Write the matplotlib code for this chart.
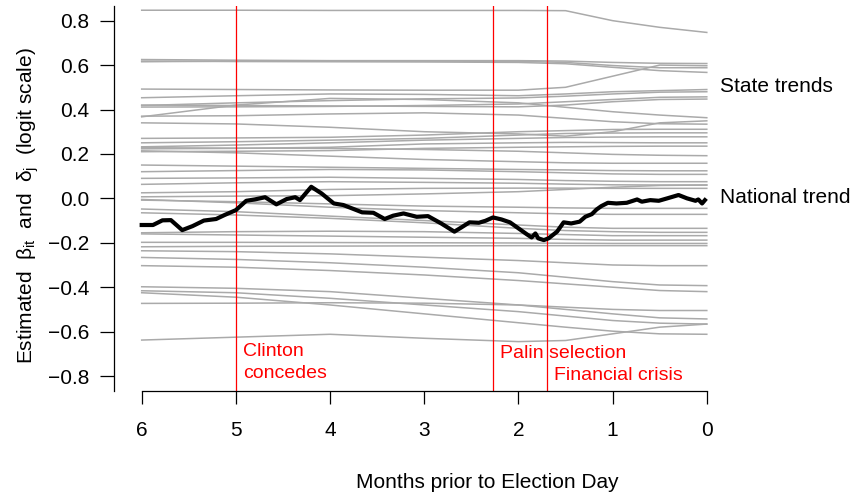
import matplotlib
matplotlib.use("Agg")
import matplotlib.pyplot as plt

plt.rcParams['font.family'] = ['Liberation Sans', 'DejaVu Sans']
plt.rcParams['mathtext.fontset'] = 'custom'
plt.rcParams['mathtext.rm'] = 'Liberation Sans'
plt.rcParams['mathtext.it'] = 'Liberation Sans'

# months before election at which state trend values were read
knots = [6, 5, 4, 3, 2, 1.5, 1, 0.5, 0]

# state trends (grey), one list per state, values at the knots above
states = [
    [0.847, 0.847, 0.846, 0.846, 0.846, 0.845, 0.800, 0.770, 0.747],
    [0.625, 0.622, 0.620, 0.620, 0.620, 0.618, 0.612, 0.608, 0.607],
    [0.615, 0.618, 0.619, 0.618, 0.617, 0.612, 0.598, 0.588, 0.588],
    [0.618, 0.616, 0.615, 0.614, 0.612, 0.606, 0.590, 0.575, 0.567],
    [0.492, 0.490, 0.488, 0.487, 0.487, 0.500, 0.550, 0.600, 0.597],
    [0.453, 0.462, 0.470, 0.468, 0.462, 0.470, 0.480, 0.485, 0.490],
    [0.418, 0.430, 0.440, 0.448, 0.452, 0.460, 0.470, 0.478, 0.480],
    [0.411, 0.412, 0.414, 0.418, 0.425, 0.435, 0.445, 0.455, 0.457],
    [0.420, 0.418, 0.416, 0.414, 0.412, 0.420, 0.435, 0.445, 0.447],
    [0.367, 0.420, 0.450, 0.445, 0.430, 0.410, 0.390, 0.375, 0.363],
    [0.340, 0.335, 0.320, 0.300, 0.290, 0.280, 0.300, 0.340, 0.349],
    [0.370, 0.372, 0.380, 0.385, 0.375, 0.360, 0.345, 0.336, 0.334],
    [0.270, 0.272, 0.275, 0.285, 0.300, 0.305, 0.310, 0.311, 0.311],
    [0.250, 0.255, 0.262, 0.270, 0.285, 0.292, 0.294, 0.295, 0.295],
    [0.232, 0.240, 0.250, 0.262, 0.270, 0.274, 0.276, 0.277, 0.277],
    [0.223, 0.225, 0.230, 0.245, 0.250, 0.252, 0.251, 0.250, 0.250],
    [0.210, 0.212, 0.215, 0.225, 0.230, 0.232, 0.234, 0.235, 0.235],
    [0.228, 0.226, 0.225, 0.220, 0.212, 0.205, 0.198, 0.194, 0.192],
    [0.214, 0.205, 0.190, 0.175, 0.165, 0.160, 0.158, 0.158, 0.158],
    [0.150, 0.145, 0.140, 0.135, 0.130, 0.128, 0.125, 0.124, 0.124],
    [0.120, 0.125, 0.130, 0.128, 0.120, 0.115, 0.110, 0.108, 0.108],
    [0.090, 0.092, 0.095, 0.090, 0.085, 0.080, 0.077, 0.075, 0.075],
    [0.063, 0.070, 0.075, 0.072, 0.068, 0.064, 0.061, 0.060, 0.060],
    [0.025, 0.030, 0.040, 0.045, 0.046, 0.046, 0.045, 0.045, 0.045],
    [0.007, 0.010, 0.012, 0.020, 0.030, 0.040, 0.050, 0.058, 0.060],
    [-0.008, -0.015, -0.025, -0.035, -0.040, -0.043, -0.045, -0.045, -0.045],
    [-0.005, -0.020, -0.040, -0.055, -0.065, -0.070, -0.072, -0.072, -0.072],
    [-0.048, -0.060, -0.080, -0.100, -0.120, -0.130, -0.135, -0.135, -0.135],
    [-0.065, -0.075, -0.090, -0.110, -0.135, -0.145, -0.150, -0.153, -0.153],
    [-0.155, -0.150, -0.148, -0.150, -0.158, -0.163, -0.168, -0.168, -0.168],
    [-0.160, -0.165, -0.170, -0.175, -0.180, -0.185, -0.188, -0.188, -0.188],
    [-0.198, -0.198, -0.199, -0.200, -0.201, -0.202, -0.203, -0.203, -0.203],
    [-0.218, -0.216, -0.215, -0.214, -0.213, -0.213, -0.213, -0.213, -0.213],
    [-0.236, -0.240, -0.250, -0.265, -0.280, -0.290, -0.300, -0.303, -0.303],
    [-0.266, -0.275, -0.290, -0.310, -0.335, -0.355, -0.375, -0.390, -0.393],
    [-0.303, -0.310, -0.325, -0.345, -0.370, -0.385, -0.400, -0.415, -0.420],
    [-0.398, -0.405, -0.420, -0.450, -0.480, -0.500, -0.520, -0.538, -0.543],
    [-0.416, -0.425, -0.450, -0.480, -0.510, -0.530, -0.550, -0.562, -0.566],
    [-0.425, -0.445, -0.480, -0.520, -0.560, -0.580, -0.598, -0.610, -0.612],
    [-0.473, -0.472, -0.470, -0.472, -0.480, -0.490, -0.500, -0.505, -0.505],
    [-0.638, -0.625, -0.612, -0.630, -0.645, -0.640, -0.610, -0.580, -0.566],
]

# national trend (black)
nat_x = [6.0, 5.88, 5.78, 5.69, 5.57, 5.46, 5.34, 5.21, 5.12, 5.0, 4.89, 4.8,
         4.69, 4.57, 4.46, 4.37, 4.32, 4.2, 4.09, 3.96, 3.86, 3.75, 3.66, 3.54,
         3.42, 3.33, 3.22, 3.08, 2.96, 2.82, 2.68, 2.61, 2.52, 2.42, 2.35, 2.27,
         2.18, 2.09, 2.0, 1.91, 1.86, 1.82, 1.79, 1.73, 1.68, 1.59, 1.52, 1.44,
         1.35, 1.29, 1.22, 1.17, 1.12, 1.05, 0.96, 0.85, 0.74, 0.69, 0.6, 0.51,
         0.42, 0.3, 0.21, 0.12, 0.09, 0.05, 0.02]
nat_y = [-0.12, -0.12, -0.099, -0.098, -0.143, -0.125, -0.10, -0.093, -0.075,
         -0.053, -0.011, -0.005, 0.005, -0.027, -0.003, 0.005, -0.008, 0.052,
         0.022, -0.023, -0.03, -0.048, -0.063, -0.065, -0.093, -0.078, -0.068,
         -0.083, -0.08, -0.113, -0.15, -0.132, -0.108, -0.11, -0.101, -0.086,
         -0.095, -0.108, -0.135, -0.162, -0.176, -0.158, -0.18, -0.188, -0.18,
         -0.15, -0.108, -0.113, -0.105, -0.083, -0.071, -0.05, -0.035, -0.02,
         -0.023, -0.02, -0.005, -0.015, -0.008, -0.011, 0.0, 0.015, 0.0,
         -0.011, -0.005, -0.023, -0.008]

events = [5.0, 2.27, 1.70]
yticks = [-0.8, -0.6, -0.4, -0.2, 0.0, 0.2, 0.4, 0.6, 0.8]

fig = plt.figure(figsize=(8.54, 4.92), dpi=100)
ax = fig.add_axes([0.1335, 0.2059, 0.7217, 0.7819])

for s in states:
    ax.plot(knots, s, color='#aaaaaa', lw=1.1, zorder=1)
ax.plot(nat_x, nat_y, color='black', lw=3.0, zorder=3, solid_joinstyle='round')
for e in events:
    ax.axvline(e, color='red', lw=0.9, zorder=2)

ax.set_xlim(6.294, -0.25)
ax.set_ylim(-0.866, 0.866)
ax.set_xticks([6, 5, 4, 3, 2, 1, 0])
ax.set_yticks(yticks)
ax.set_yticklabels([('%.1f' % v).replace('-', '\u2212') for v in yticks])
ax.spines['top'].set_visible(False)
ax.spines['right'].set_visible(False)
ax.spines['bottom'].set_bounds(0, 6)
ax.spines['left'].set_linewidth(0.9)
ax.spines['bottom'].set_linewidth(0.9)
ax.tick_params(axis='x', length=9.7, width=0.9, pad=12, labelsize=15)
ax.tick_params(axis='y', length=10, width=0.9, pad=8, labelsize=15)

ax.text(4.926, -0.710, 'Clinton', color='red', fontsize=14)
ax.text(4.926, -0.809, 'concedes', color='red', fontsize=14)
ax.text(2.194, -0.719, 'Palin selection', color='red', fontsize=14)
ax.text(1.621, -0.818, 'Financial crisis', color='red', fontsize=14)
ax.text(-0.141, 0.48, 'State trends', fontsize=15, clip_on=False)
ax.text(-0.141, -0.0225, 'National trend', fontsize=15, clip_on=False)

fig.text(487.5 / 854, 1 - 483 / 492, 'Months prior to Election Day',
         fontsize=15, ha='center', va='center')
fig.text(28 / 854, 1 - 206 / 492,
         r'Estimated  $\beta_{\mathrm{it}}$  and  $\delta_{\mathrm{j}}$  (logit scale)',
         fontsize=15, rotation=90, ha='center', va='center')

fig.savefig('out.png', dpi=100)
